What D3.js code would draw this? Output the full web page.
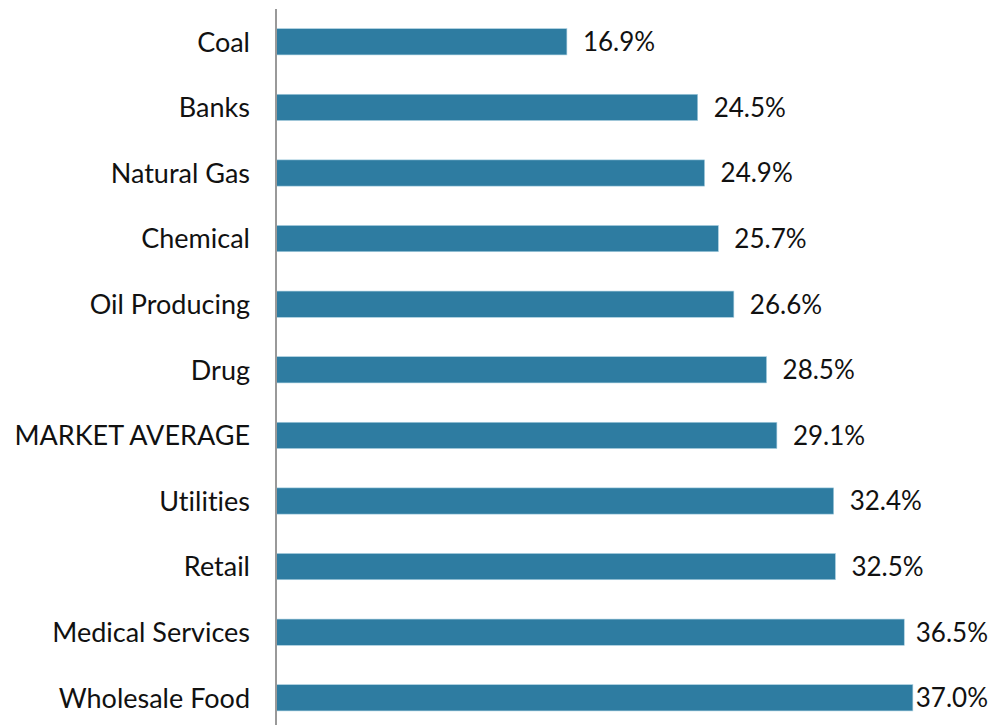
<!DOCTYPE html>
<html><head><meta charset="utf-8">
<script src="https://cdn.jsdelivr.net/npm/d3@7"></script>
<style>body{margin:0;background:#fff}text{font-family:"Lato",sans-serif;fill:#111;font-variant-ligatures:none;font-feature-settings:"liga" 0}</style>
</head><body><svg id="c" width="1001" height="725"></svg>
<script>
const categories = ["Coal","Banks","Natural Gas","Chemical","Oil Producing","Drug","MARKET AVERAGE","Utilities","Retail","Medical Services","Wholesale Food"];
const values = [16.9,24.5,24.9,25.7,26.6,28.5,29.1,32.4,32.5,36.5,37.0];
const labels = ["16.9%","24.5%","24.9%","25.7%","26.6%","28.5%","29.1%","32.4%","32.5%","36.5%","37.0%"];

const svg = d3.select("#c");
const x = d3.scaleLinear().domain([0,40]).range([276,964.5]);
const y = d3.scaleBand().domain(categories).range([9,730.6]).paddingInner(0.6).paddingOuter(0.3);

svg.selectAll("rect.bar").data(values).join("rect")
  .attr("x", x(0)).attr("y",(d,i)=>y(categories[i]))
  .attr("width", d=>x(d)-x(0)).attr("height", y.bandwidth())
  .attr("fill","#2e7ca1").attr("stroke","#a9cfe0").attr("stroke-width",0.6);

svg.append("line").attr("x1",276).attr("x2",276).attr("y1",9).attr("y2",725)
  .attr("stroke","#999").attr("stroke-width",2);

svg.selectAll("text.cat").data(categories).join("text")
  .attr("class","cat").attr("x",250).attr("y",d=>y(d)+y.bandwidth()/2)
  .attr("dy","0.36em").attr("text-anchor","end").style("font-size","27px").text(d=>d);

svg.selectAll("text.val").data(values).join("text")
  .attr("class","val").attr("y",(d,i)=>y(categories[i])+y.bandwidth()/2)
  .attr("dy","0.36em").style("font-size","26px").text((d,i)=>labels[i])
  .each(function(d){
    const w = this.getComputedTextLength();
    d3.select(this).attr("x", Math.min(x(d)+16, 988-w));
  });
</script></body></html>
